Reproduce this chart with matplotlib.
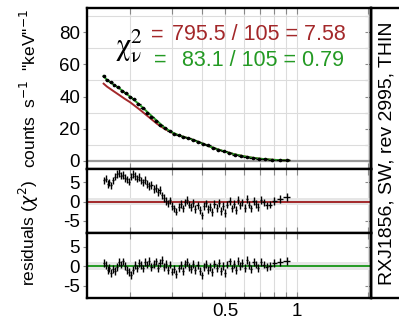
import matplotlib
matplotlib.use("Agg")
import matplotlib.pyplot as plt
from matplotlib.patches import Rectangle
import numpy as np

plt.rcParams["font.family"] = ["Liberation Sans", "DejaVu Sans"]

RED = "#a3282a"
GREEN = "#249a24"

# model curves (keV, counts s-1 keV-1)
model_e = [0.155, 0.160, 0.170, 0.180, 0.190, 0.200, 0.220, 0.240, 0.260, 0.280,
           0.300, 0.320, 0.340, 0.360, 0.380, 0.400, 0.430, 0.460, 0.500, 0.550,
           0.600, 0.650, 0.700, 0.750, 0.800, 0.850, 0.930]
model_green = [52.8, 50.3, 47.6, 45.2, 42.4, 40.0, 34.8, 29.5, 24.8, 20.5,
               17.8, 15.9, 14.7, 13.6, 12.3, 11.0, 9.1, 7.5, 5.8, 4.1,
               2.9, 2.0, 1.4, 1.0, 0.7, 0.5, 0.3]
model_red = [48.0, 46.2, 43.5, 41.0, 38.6, 36.5, 31.8, 27.2, 23.0, 19.8,
             17.6, 15.9, 14.7, 13.6, 12.3, 11.0, 9.1, 7.5, 5.8, 4.1,
             2.9, 2.0, 1.4, 1.0, 0.7, 0.5, 0.3]

# observed spectrum
spec_e = [0.155, 0.160, 0.166, 0.172, 0.178, 0.185, 0.192, 0.200, 0.208, 0.217,
          0.226, 0.236, 0.246, 0.257, 0.268, 0.280, 0.293, 0.306, 0.320, 0.335,
          0.351, 0.368, 0.386, 0.405, 0.425, 0.447, 0.470, 0.495, 0.522, 0.551,
          0.582, 0.616, 0.653, 0.693, 0.737, 0.785, 0.850, 0.910]
spec_counts = [52.5, 50.0, 49.0, 47.0, 45.8, 43.5, 42.0, 40.0, 38.2, 35.5,
               33.0, 29.8, 27.5, 24.8, 22.5, 20.2, 18.3, 16.9, 15.9, 15.0,
               14.0, 13.0, 11.9, 10.8, 9.6, 8.3, 7.1, 6.0, 5.0, 4.0,
               3.2, 2.5, 1.9, 1.4, 1.0, 0.7, 0.5, 0.35]

# residual energies and chi residuals for the two fits
res_e = [0.155, 0.158, 0.161, 0.164, 0.167, 0.170, 0.173, 0.176, 0.180, 0.183,
         0.187, 0.190, 0.194, 0.198, 0.202, 0.206, 0.210, 0.214, 0.218, 0.222,
         0.227, 0.231, 0.236, 0.241, 0.246, 0.251, 0.256, 0.261, 0.266, 0.272,
         0.277, 0.283, 0.289, 0.295, 0.301, 0.307, 0.313, 0.320, 0.326, 0.333,
         0.340, 0.347, 0.354, 0.361, 0.369, 0.376, 0.384, 0.392, 0.400, 0.408,
         0.417, 0.425, 0.434, 0.443, 0.452, 0.462, 0.471, 0.481, 0.491, 0.502,
         0.512, 0.523, 0.534, 0.545, 0.556, 0.568, 0.580, 0.592, 0.605, 0.618,
         0.631, 0.645, 0.660, 0.675, 0.690, 0.708, 0.728, 0.750, 0.775, 0.805,
         0.850, 0.910]
res_red = [5.5, 6.0, 4.5, 5.0, 4.2, 5.5, 6.5, 7.2, 7.5, 6.8,
           7.0, 6.2, 5.8, 5.2, 6.5, 7.2, 6.6, 6.0, 6.4, 5.5,
           5.0, 5.6, 4.6, 4.0, 4.4, 3.2, 3.6, 2.5, 3.0, 1.6,
           1.0, 0.2, -0.5, 0.3, -1.2, -1.8, -2.6, -1.4, -0.6, -1.8,
           -0.2, 0.4, -0.8, -1.5, -0.4, -1.9, -1.0, -2.2, -3.6, -1.2,
           -0.5, -2.0, -1.4, -2.8, -0.6, -1.6, -0.4, -2.4, -1.2, -3.0,
           -0.8, 0.2, -1.8, -0.6, -2.2, 0.4, -1.0, -0.2, -1.6, 0.6,
           -0.8, -1.8, 0.2, -0.6, -1.4, 0.4, -0.2, -1.0, -0.8, 0.2,
           0.6, 1.2]
res_green = [0.8, 0.2, -1.0, -0.4, -1.8, -0.8, -1.2, -0.2, 1.0, 0.4,
             1.2, 0.0, -1.0, -1.6, -2.2, -1.0, 0.2, -0.6, 0.8, 0.2,
             -0.6, 1.0, 0.4, 1.4, -0.2, 0.6, 1.2, -0.4, 0.8, 1.6,
             -0.2, 0.6, -1.0, 0.4, -1.4, -0.8, -2.0, -0.6, 0.2, -1.2,
             0.6, 1.0, -0.2, -0.8, 0.6, -1.0, 0.2, -1.2, -2.4, -0.2,
             0.6, -1.0, -0.2, -1.6, 0.6, -0.4, 0.8, -1.2, 0.0, -1.8,
             0.4, 1.2, -0.6, 0.6, -1.0, 1.4, 0.0, 0.8, -0.4, 1.6,
             0.2, -0.8, 1.0, 0.4, -0.4, 1.0, 0.4, -0.2, 0.0, 0.8,
             1.0, 1.4]

x_ticks = [0.2, 0.3, 0.4, 0.5, 0.6, 0.7, 0.8, 0.9, 1.0, 2.0]
x_ticklabels = ["", "", "", "0.5", "", "", "", "", "1", ""]

W, H = 399, 330
fig = plt.figure(figsize=(W / 100, H / 100), dpi=100)


def fx(px):
    return px / W


def fy(py):
    return 1 - py / H


left, right = fx(87), fx(371)
ax_top = fig.add_axes([left, fy(169), right - left, fy(8) - fy(169)])
ax_mid = fig.add_axes([left, fy(233), right - left, fy(169) - fy(233)], sharex=ax_top)
ax_bot = fig.add_axes([left, fy(298), right - left, fy(233) - fy(298)], sharex=ax_top)

# half bin widths from the energy grid
res_xerr = np.gradient(np.array(res_e)) / 2
spec_xerr = np.gradient(np.array(spec_e)) / 2

for ax in (ax_top, ax_mid, ax_bot):
    ax.set_xscale("log")
    ax.set_xlim(0.132, 2.05)
    ax.set_xticks(x_ticks)
    ax.set_xticks([], minor=True)
    ax.grid(True, axis="x", color="#dcdcdc", lw=0.8)
    ax.set_axisbelow(True)
    for s in ax.spines.values():
        s.set_linewidth(1.7)
    ax.tick_params(axis="x", which="both", direction="in", top=True, length=4,
                   width=0.8, color="#888888", labelsize=13.5)
    ax.tick_params(axis="y", direction="out", length=3, width=0.8, color="#888888",
                   labelsize=13.5, pad=2)
    sec = ax.secondary_yaxis("right")
    sec.tick_params(direction="in", length=4, width=0.8, color="#888888", labelright=False)
    sec.spines["right"].set_linewidth(1.7)

ax_top.tick_params(axis="x", labelbottom=False)
ax_mid.tick_params(axis="x", labelbottom=False)
ax_bot.set_xticklabels(x_ticklabels)

# top panel
ax_top.set_ylim(-5, 95)
ax_top.set_yticks([0, 20, 40, 60, 80])
ax_top.set_yticks(np.arange(0, 100, 10), minor=True)
ax_top.grid(True, axis="y", which="minor", color="#dcdcdc", lw=0.8)
ax_top.tick_params(axis="y", which="minor", length=0)
ax_top.child_axes[0].set_yticks(np.arange(0, 100, 10))
ax_top.axhline(0, color="#999999", lw=1.6)
ax_top.plot(model_e, model_red, color=RED, lw=1.4)
ax_top.plot(model_e, model_green, color=GREEN, lw=1.4)
ax_top.errorbar(spec_e, spec_counts, xerr=spec_xerr, yerr=0.6, fmt="o", color="black",
                ms=1.6, lw=0.9, capsize=0)

# residual panels
for ax, res, col in ((ax_mid, res_red, RED), (ax_bot, res_green, GREEN)):
    ax.set_ylim(-8.2, 8.5)
    ax.set_yticks([-5, 0, 5])
    ax.set_yticklabels(["-5", "0", "5"])
    ax.child_axes[0].set_yticks([-5, 0, 5])
    ax.axhspan(-1.0, 1.0, color="#e6e6e6", lw=0)
    ax.axhline(0, color=col, lw=1.4)
    ax.errorbar(res_e, res, xerr=res_xerr, yerr=1.0, fmt="none", ecolor="black",
                lw=1.0, capsize=0)

# labels
fig.text(fx(29), fy(88), 'counts  s$^{-1}$  "keV"$^{-1}$', rotation=90,
         ha="center", va="center", fontsize=12.5)
fig.text(fx(29), fy(233), r"residuals ($\chi^2$)", rotation=90,
         ha="center", va="center", fontsize=12.5)

fig.text(fx(129), fy(46), r"$\mathrm{\chi}^2_\mathrm{\nu}$", ha="center", va="center",
         fontsize=22, math_fontfamily="stix")
fig.text(fx(151), fy(35), "=", ha="left", va="center", fontsize=15.5, color=RED)
fig.text(fx(346), fy(35), "795.5 / 105 = 7.58", ha="right", va="center",
         fontsize=15.5, color=RED)
fig.text(fx(154), fy(60), "=", ha="left", va="center", fontsize=15.5, color=GREEN)
fig.text(fx(344), fy(60), "83.1 / 105 = 0.79", ha="right", va="center",
         fontsize=15.5, color=GREEN)

# side box with observation label
fig.add_artist(Rectangle((right, fy(298)), 0.2, fy(8) - fy(298),
                         transform=fig.transFigure, fill=False, lw=1.7,
                         edgecolor="black"))
fig.text(fx(387), fy(153), "RXJ1856, SW, rev 2995, THIN", rotation=90,
         ha="center", va="center", fontsize=14)

fig.savefig("out.png", dpi=100)
